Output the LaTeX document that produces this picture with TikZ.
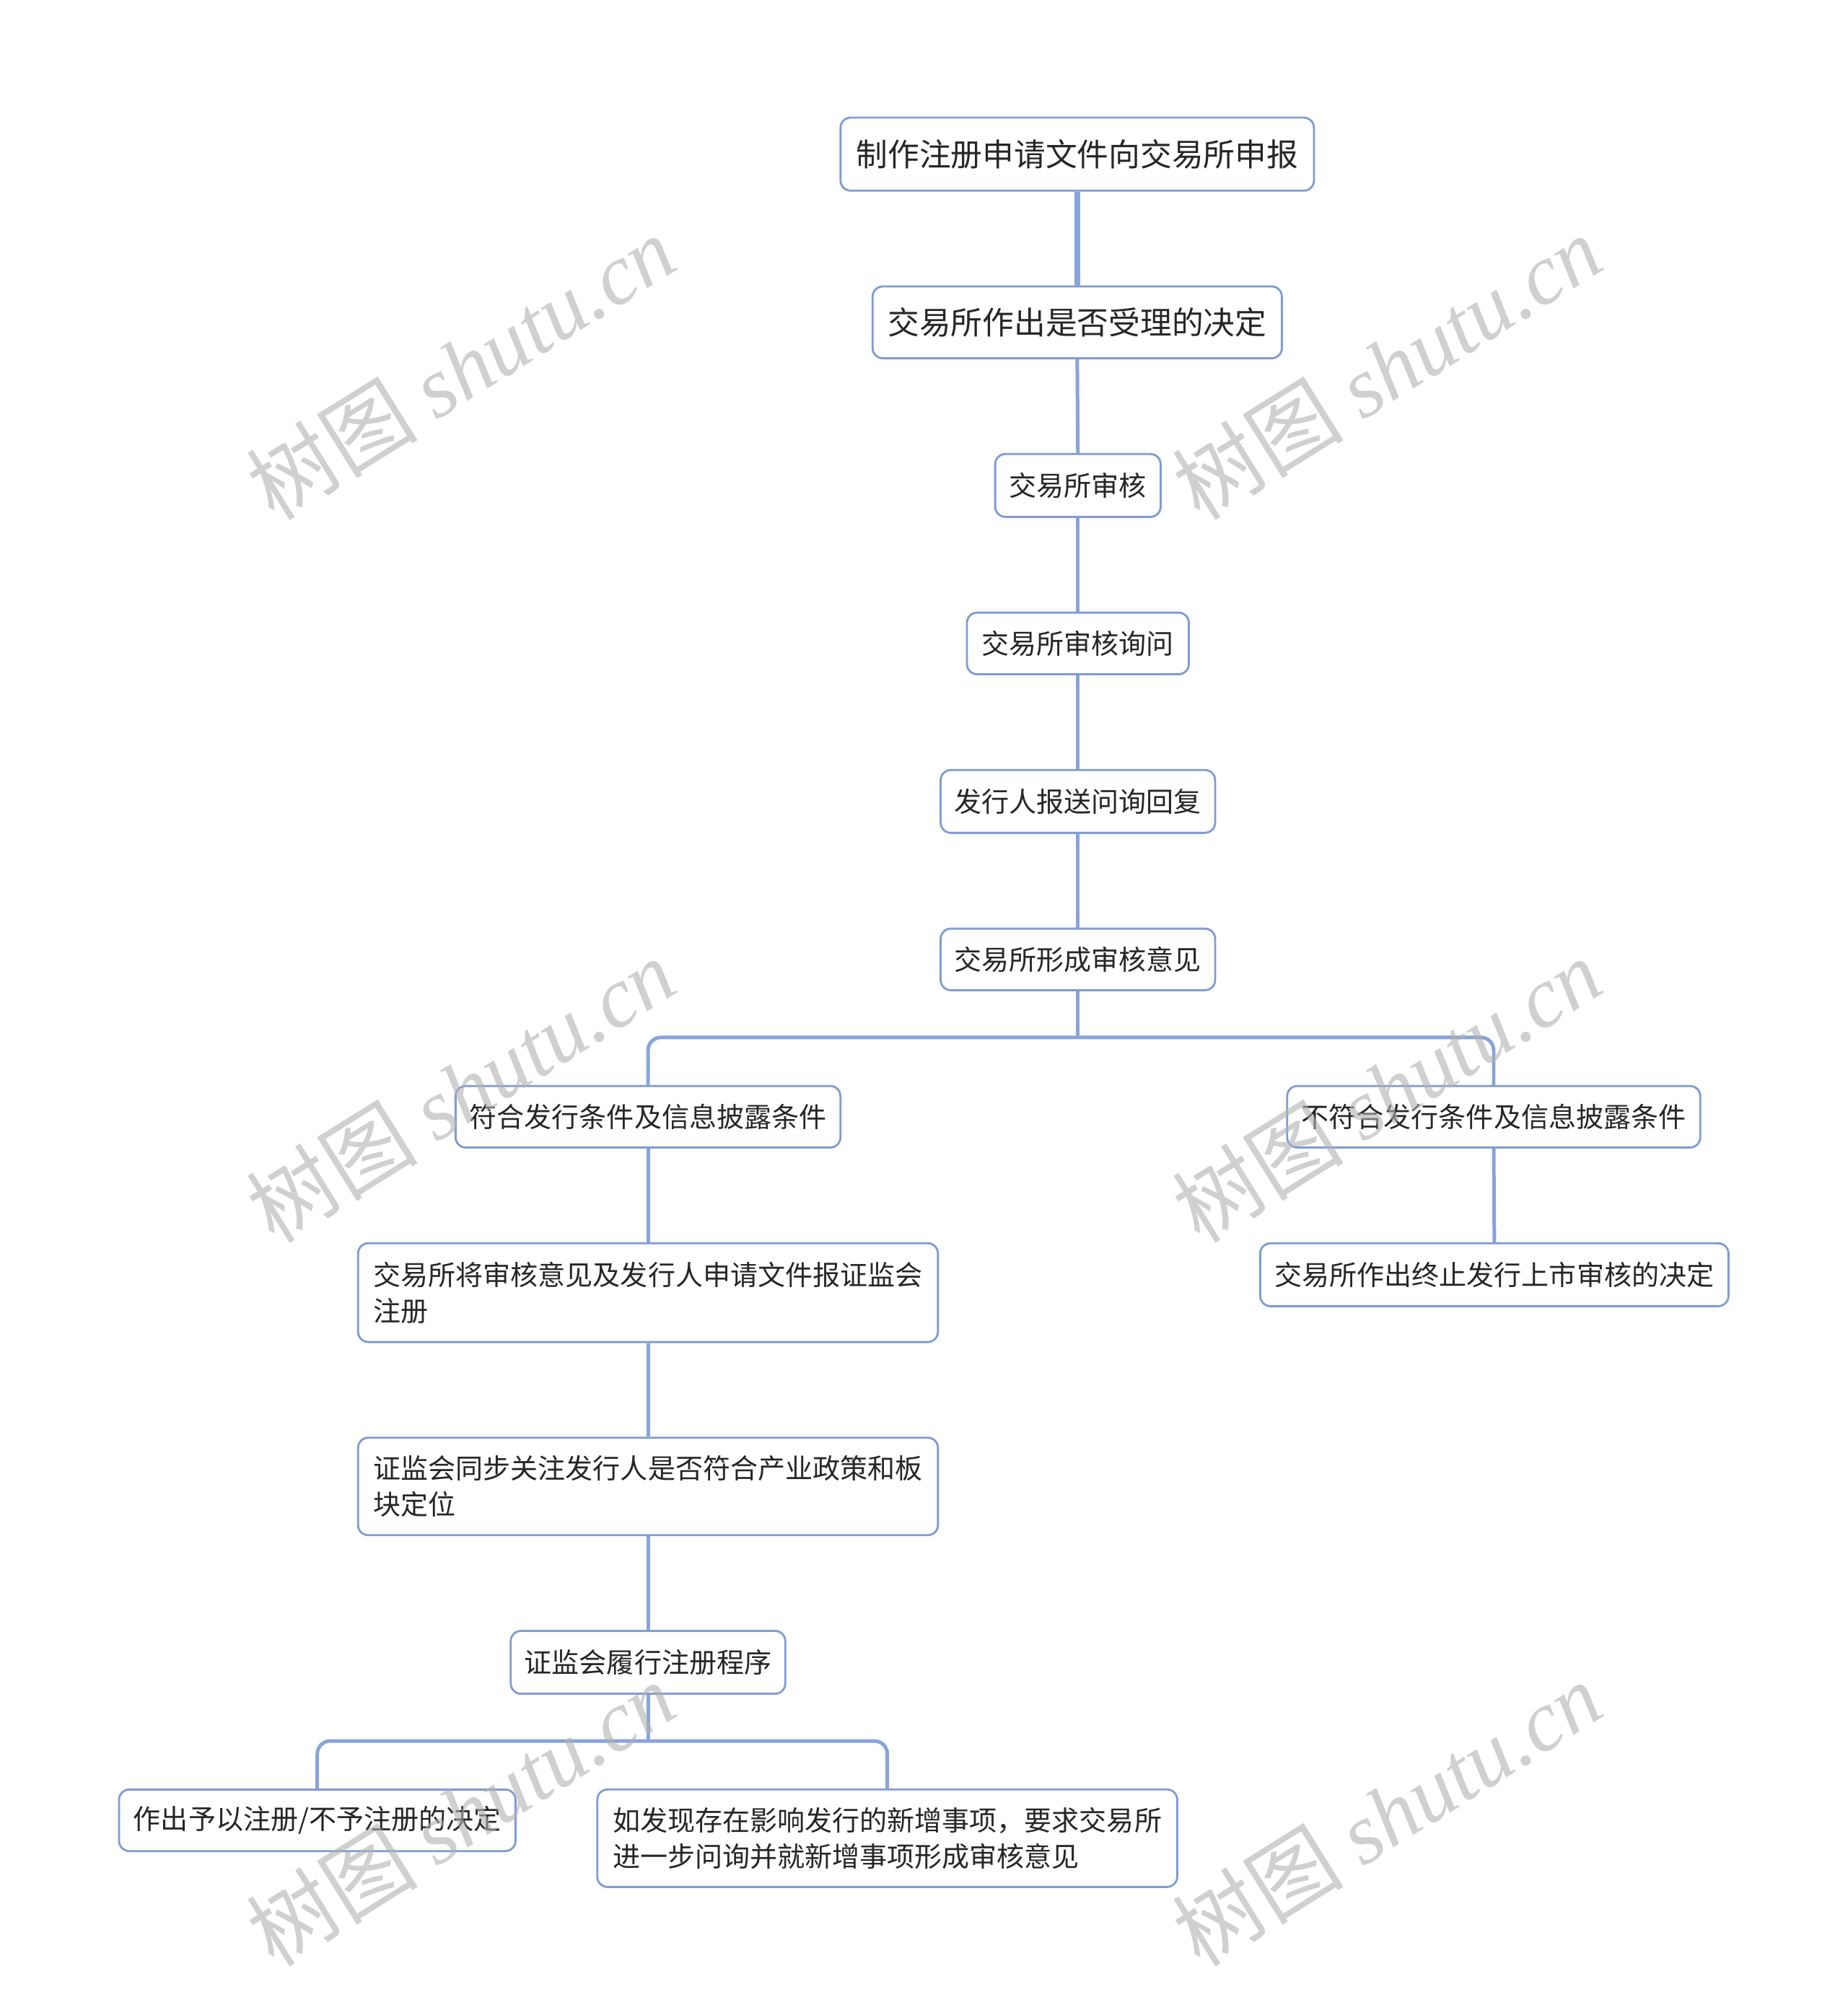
\documentclass[tikz,border=0pt]{standalone}
\usepackage{fontspec}
\setmainfont{Noto Sans CJK SC}
\newfontfamily\wmserif{Liberation Serif}
\definecolor{linkblue}{HTML}{87A5DA}
\definecolor{boxblue}{HTML}{7F9CD3}
\definecolor{inkgray}{HTML}{262626}

\begin{document}
\begin{tikzpicture}[x=0.4986pt,y=-0.4986pt,
    stepbox/.style={draw=boxblue,line width=0.8pt,rounded corners=4pt,fill=white,
      text=inkgray,inner sep=0pt,font=\fontsize{10.7}{14}\selectfont},
    topbox/.style={stepbox,font=\fontsize{12.3}{15}\selectfont},
    longbox/.style={stepbox,align=left,minimum width=226pt,minimum height=38pt},
    link/.style={draw=linkblue,line width=1.4pt},
    rootlink/.style={link,line width=2.4pt},
    fork/.style={link,rounded corners=5pt},
    wmark/.style={text=black!30,text opacity=0.6,rotate=32,inner sep=0pt,
      font=\fontsize{33.5}{34}\selectfont}]
  \fill[white] (0,0) rectangle (1444,1567.4);
  \useasboundingbox (0,0) rectangle (1444,1567.4);

  \node[topbox,minimum width=184.5pt,minimum height=28.5pt] (apply) at (842,120.5) {制作注册申请文件向交易所申报};
  \node[topbox,minimum width=159.5pt,minimum height=28pt] (accept) at (842,252) {交易所作出是否受理的决定};
  \node[stepbox,minimum width=64.5pt,minimum height=24.5pt] (review) at (842.5,379.5) {交易所审核};
  \node[stepbox,minimum width=86.5pt,minimum height=24pt] (inquiry) at (842.5,503) {交易所审核询问};
  \node[stepbox,minimum width=107pt,minimum height=24.5pt] (reply) at (842.5,626.5) {发行人报送问询回复};
  \node[stepbox,minimum width=107pt,minimum height=24pt] (opinion) at (842.5,750) {交易所形成审核意见};
  \node[stepbox,minimum width=150pt,minimum height=24pt] (meet) at (506.5,873) {符合发行条件及信息披露条件};
  \node[stepbox,minimum width=161pt,minimum height=24pt] (fail) at (1167.5,873) {不符合发行条件及信息披露条件};
  \node[longbox,minimum height=38.5pt] (submit) at (506.5,1010.5) {交易所将审核意见及发行人申请文件报证监会\\注册};
  \node[stepbox,minimum width=182.5pt,minimum height=24.5pt] (stop) at (1168,996.5) {交易所作出终止发行上市审核的决定};
  \node[longbox] (policy) at (506.5,1162) {证监会同步关注发行人是否符合产业政策和板\\块定位};
  \node[stepbox,minimum width=107pt,minimum height=24.5pt] (register) at (506.5,1299.5) {证监会履行注册程序};
  \node[stepbox,minimum width=154.5pt,minimum height=24pt] (decide) at (248,1423) {作出予以注册/不予注册的决定};
  \node[longbox] (recheck) at (693.5,1437) {如发现存在影响发行的新增事项，要求交易所\\进一步问询并就新增事项形成审核意见};

  \coordinate (split) at (842.5,811);
  \coordinate (split2) at (506.5,1361);

  \draw[rootlink] (apply.south) -- (accept.north);
  \draw[link] (accept.south) -- (review.north);
  \draw[link] (review.south) -- (inquiry.north);
  \draw[link] (inquiry.south) -- (reply.north);
  \draw[link] (reply.south) -- (opinion.north);
  \draw[link] (opinion.south) -- (split);
  \draw[fork] (meet.north) |- (split) -| (fail.north);
  \draw[link] (meet.south) -- (submit.north);
  \draw[link] (fail.south) -- (stop.north);
  \draw[link] (submit.south) -- (policy.north);
  \draw[link] (policy.south) -- (register.north);
  \draw[link] (register.south) -- (split2);
  \draw[fork] (decide.north) |- (split2) -| (recheck.north);

  \foreach \wx/\wy [count=\i] in {360/287,1084/287,360/852,1084/852,360/1418,1084/1418}
    \node[wmark] (wm\i) at (\wx,\wy) {树图 {\wmserif\itshape shutu.cn}};
\end{tikzpicture}
\end{document}
